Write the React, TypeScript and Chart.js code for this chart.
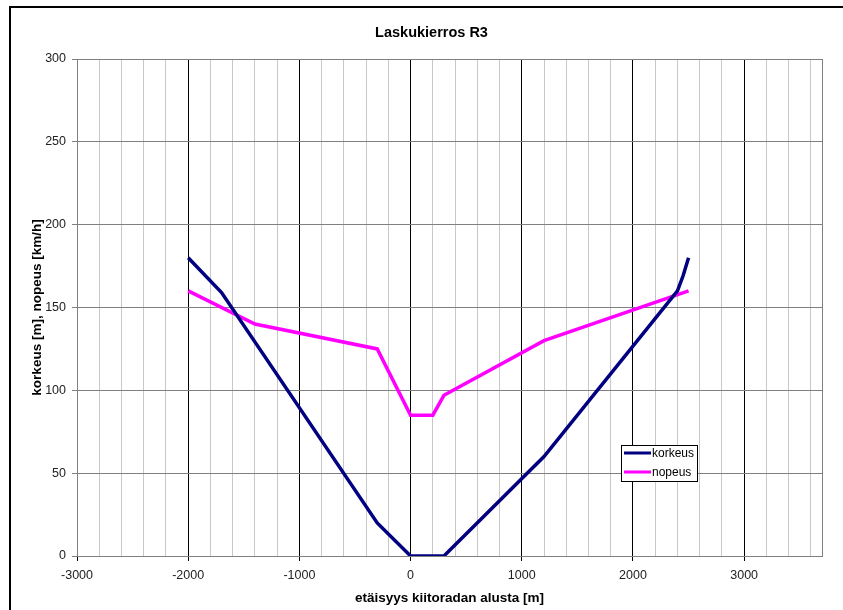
import React, { useEffect, useRef } from 'react';
import { Chart, registerables } from 'chart.js';

Chart.register(...registerables);

const chartTitle = 'Laskukierros R3';
const xAxisTitle = 'etäisyys kiitoradan alusta [m]';
const yAxisTitle = 'korkeus [m], nopeus [km/h]';
const seriesNames = ['korkeus', 'nopeus'];

const korkeusX = [-2000, -1700, -300, 0, 300, 1200, 2400, 2450, 2500];
const korkeusY = [180, 159, 20, 0, 0, 60, 160, 169, 180];

const nopeusX = [-2000, -1400, -300, 0, 200, 300, 1200, 2500];
const nopeusY = [160, 140, 125, 85, 85, 97, 130, 160];

const xMin = -3000;
const xMax = 3700;
const xMinorStep = 200;
const xMajorStep = 1000;
const yMin = 0;
const yMax = 300;
const yStep = 50;

const colors = ['#000080', '#FF00FF'];

const W = 843;
const H = 610;

const toPoints = (xs: number[], ys: number[]) => xs.map((x, i) => ({ x, y: ys[i] }));

const decorPlugin = {
  id: 'decor',
  beforeDraw(chart: any) {
    const ctx = chart.ctx;
    ctx.save();
    ctx.fillStyle = '#fff';
    ctx.fillRect(0, 0, chart.width, chart.height);
    ctx.strokeStyle = '#000';
    ctx.lineWidth = 2;
    ctx.beginPath();
    ctx.moveTo(10, chart.height + 10);
    ctx.lineTo(10, 7);
    ctx.lineTo(chart.width + 10, 7);
    ctx.stroke();
    ctx.restore();
  },
  beforeDatasetsDraw(chart: any) {
    const { ctx, chartArea } = chart;
    ctx.save();
    ctx.strokeStyle = '#808080';
    ctx.lineWidth = 1;
    ctx.beginPath();
    ctx.moveTo(Math.round(chartArea.right) + 0.5, chartArea.top);
    ctx.lineTo(Math.round(chartArea.right) + 0.5, chartArea.bottom);
    ctx.stroke();
    ctx.restore();
  },
  afterDraw(chart: any) {
    const ctx = chart.ctx;
    const bx = 621.5, by = 445.5, bw = 76, bh = 36;
    ctx.save();
    ctx.fillStyle = '#fff';
    ctx.fillRect(bx, by, bw, bh);
    ctx.strokeStyle = '#000';
    ctx.lineWidth = 1;
    ctx.strokeRect(bx, by, bw, bh);
    ctx.font = '12px "Liberation Sans", Arial, sans-serif';
    ctx.textBaseline = 'middle';
    ctx.textAlign = 'left';
    seriesNames.forEach((name, i) => {
      const y = 453 + i * 19;
      ctx.strokeStyle = colors[i];
      ctx.lineWidth = 3;
      ctx.beginPath();
      ctx.moveTo(624, y);
      ctx.lineTo(651, y);
      ctx.stroke();
      ctx.fillStyle = '#000';
      ctx.fillText(name, 652, y + 1);
    });
    ctx.restore();
  },
};

export default function App() {
  const canvasRef = useRef<HTMLCanvasElement | null>(null);

  useEffect(() => {
    if (!canvasRef.current) return;
    Chart.defaults.font.family = '"Liberation Sans", Arial, sans-serif';
    const xTicks: number[] = [];
    for (let v = xMin; v < xMax; v += xMinorStep) xTicks.push(v);

    const chart = new Chart(canvasRef.current, {
      type: 'line',
      data: {
        datasets: [
          {
            label: seriesNames[0],
            data: toPoints(korkeusX, korkeusY),
            borderColor: colors[0],
            backgroundColor: colors[0],
            borderWidth: 3.5,
            pointRadius: 0,
            tension: 0,
            fill: false,
          },
          {
            label: seriesNames[1],
            data: toPoints(nopeusX, nopeusY),
            borderColor: colors[1],
            backgroundColor: colors[1],
            borderWidth: 3.5,
            pointRadius: 0,
            tension: 0,
            fill: false,
          },
        ],
      },
      options: {
        responsive: false,
        animation: false,
        devicePixelRatio: 1,
        layout: { padding: { left: 20, right: 0, top: 10, bottom: 4 } },
        plugins: {
          legend: { display: false },
          tooltip: { enabled: false },
          title: {
            display: true,
            text: chartTitle,
            color: '#000',
            font: { size: 14.5, weight: 'bold' },
            padding: { top: 14.3, bottom: 17.3 },
          },
        },
        scales: {
          x: {
            type: 'linear',
            min: xMin,
            max: xMax,
            afterBuildTicks: (scale: any) => {
              scale.ticks = xTicks.map((v) => ({ value: v }));
            },
            afterFit: (scale: any) => {
              scale.height = 50;
            },
            ticks: {
              autoSkip: false,
              maxRotation: 0,
              padding: 7,
              color: '#222',
              font: { size: 12.5 },
              callback: (v: any) => (Number(v) % xMajorStep === 0 ? String(v) : ''),
            },
            grid: {
              color: (c: any) => {
                const v = c.tick ? c.tick.value : 0;
                if (v === xMin) return '#808080';
                return v % xMajorStep === 0 ? '#000' : '#c8c8c8';
              },
              tickColor: (c: any) => {
                const v = c.tick ? c.tick.value : 0;
                return v % xMajorStep === 0 ? '#000' : 'rgba(0,0,0,0)';
              },
              tickLength: 5,
              lineWidth: 1,
            },
            border: { color: '#808080', width: 1 },
            title: {
              display: true,
              text: xAxisTitle,
              color: '#000',
              font: { size: 13.5, weight: 'bold' },
              padding: { top: 0, bottom: 0 },
            },
          },
          y: {
            type: 'linear',
            min: yMin,
            max: yMax,
            afterFit: (scale: any) => {
              scale.width = 57;
            },
            ticks: {
              stepSize: yStep,
              padding: 6,
              color: '#222',
              font: { size: 12.5 },
            },
            grid: {
              color: '#808080',
              tickColor: '#808080',
              tickLength: 5,
              lineWidth: 1,
            },
            border: { color: '#808080', width: 1 },
            title: {
              display: true,
              text: yAxisTitle,
              color: '#000',
              font: { size: 13.5, weight: 'bold' },
              padding: { top: 9, bottom: 0 },
            },
          },
          yRight: {
            type: 'linear',
            position: 'right',
            min: yMin,
            max: yMax,
            display: true,
            afterFit: (scale: any) => {
              scale.width = 21;
            },
            ticks: { display: false },
            grid: { display: false, drawTicks: false },
            border: { display: false },
          },
        },
      },
      plugins: [decorPlugin],
    } as any);

    return () => chart.destroy();
  }, []);

  return (
    <div style={{ position: 'fixed', left: 0, top: 0, width: W, height: H, background: '#fff', overflow: 'hidden' }}>
      <canvas ref={canvasRef} width={W} height={H} style={{ width: W, height: H, display: 'block' }} />
    </div>
  );
}
